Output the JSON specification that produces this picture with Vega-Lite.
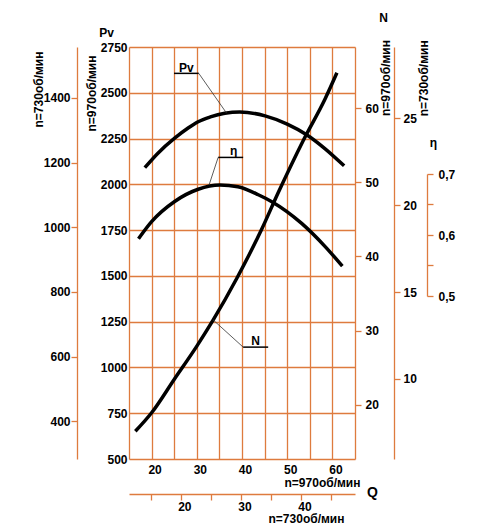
{
  "$schema": "https://vega.github.io/schema/vega-lite/v6.json",
  "width": 226,
  "height": 412,
  "autosize": {"type": "none"},
  "padding": {"left": 129, "top": 47, "right": 123, "bottom": 71},
  "background": "white",
  "datasets": {
    "pv": [
      {"Q": 18.5, "Pv": 2091}, {"Q": 21.4, "Pv": 2170}, {"Q": 25.1, "Pv": 2252},
      {"Q": 28.0, "Pv": 2306}, {"Q": 30.3, "Pv": 2342}, {"Q": 33.0, "Pv": 2368},
      {"Q": 36.2, "Pv": 2388}, {"Q": 39.5, "Pv": 2395}, {"Q": 45.1, "Pv": 2374},
      {"Q": 50.0, "Pv": 2329}, {"Q": 54.3, "Pv": 2271}, {"Q": 58.4, "Pv": 2194},
      {"Q": 62.6, "Pv": 2101}
    ],
    "eta": [
      {"Q": 17.1, "eta": 0.594}, {"Q": 20.0, "eta": 0.622}, {"Q": 25.1, "eta": 0.655},
      {"Q": 30.3, "eta": 0.675}, {"Q": 35.1, "eta": 0.682}, {"Q": 39.1, "eta": 0.679},
      {"Q": 43.6, "eta": 0.666}, {"Q": 46.5, "eta": 0.655}, {"Q": 53.2, "eta": 0.619},
      {"Q": 58.4, "eta": 0.581}, {"Q": 62.2, "eta": 0.549}
    ],
    "n": [
      {"Q": 16.4, "N": 16.4}, {"Q": 20.0, "N": 18.9}, {"Q": 25.1, "N": 23.5},
      {"Q": 29.9, "N": 27.8}, {"Q": 33.6, "N": 31.4}, {"Q": 38.8, "N": 37.0},
      {"Q": 44.3, "N": 43.6}, {"Q": 48.0, "N": 48.6}, {"Q": 53.5, "N": 55.6},
      {"Q": 58.4, "N": 61.3}, {"Q": 61.0, "N": 64.8}
    ],
    "labels": [
      {"label": "Pv", "tx": 27.7, "ty": 2638, "u1": 24.97, "u2": 30.44, "uy": 2606, "jx": 30.44, "cx": 36.58, "cy": 2389},
      {"label": "η", "tx": 38.15, "ty": 2182, "u1": 34.72, "u2": 40.25, "uy": 2147, "jx": 34.72, "cx": 32.72, "cy": 1997},
      {"label": "N", "tx": 43.0, "ty": 1144, "u1": 40.25, "u2": 45.79, "uy": 1111, "jx": 40.25, "cx": 33.6, "cy": 1260}
    ]
  },
  "layer": [
    {
      "data": {"name": "pv"},
      "mark": {"type": "line", "color": "black", "strokeWidth": 3.5, "interpolate": "monotone"},
      "encoding": {
        "x": {
          "field": "Q", "type": "quantitative",
          "scale": {"domain": [15, 65], "nice": false, "zero": false},
          "axis": {
            "values": [15, 20, 25, 30, 35, 40, 45, 50, 55, 60, 65],
            "labelExpr": "datum.value % 10 === 0 ? datum.label : ''",
            "grid": true, "domain": false, "ticks": false, "tickSize": 0,
            "labelPadding": 5, "labelOffset": 3,
            "title": "n=970об/мин", "titleX": 193, "titleY": 23,
            "titleAlign": "center", "titleBaseline": "middle"
          }
        },
        "y": {
          "field": "Pv", "type": "quantitative",
          "scale": {"domain": [500, 2750], "nice": false, "zero": false},
          "axis": {
            "values": [500, 750, 1000, 1250, 1500, 1750, 2000, 2250, 2500, 2750],
            "format": "d",
            "grid": true, "domain": false, "ticks": false, "tickSize": 0,
            "labelPadding": 2,
            "title": "n=970об/мин", "titleAngle": 270, "titleX": -38, "titleY": 46,
            "titleAlign": "center", "titleBaseline": "middle"
          }
        }
      }
    },
    {
      "data": {"name": "pv"},
      "mark": {"type": "point", "opacity": 0},
      "encoding": {
        "x": {
          "field": "Q", "type": "quantitative",
          "scale": {"domain": [15, 65], "nice": false, "zero": false},
          "axis": {
            "orient": "top", "labels": false, "ticks": false, "domain": false, "grid": false,
            "title": "Pv", "titleAngle": 0, "titleX": -23, "titleY": -15,
            "titleAlign": "center", "titleBaseline": "middle"
          }
        },
        "y": {
          "field": "Pv", "type": "quantitative",
          "scale": {"domain": [283.19, 1557.52], "nice": false, "zero": false},
          "axis": {
            "orient": "left", "offset": 52,
            "values": [400, 600, 800, 1000, 1200, 1400],
            "format": "d",
            "grid": false, "labelPadding": 1,
            "title": "n=730об/мин", "titleAngle": 270, "titleX": -39, "titleY": 42,
            "titleAlign": "center", "titleBaseline": "middle"
          }
        }
      }
    },
    {
      "data": {"name": "n"},
      "mark": {"type": "line", "color": "black", "strokeWidth": 3.5, "interpolate": "monotone"},
      "encoding": {
        "x": {
          "field": "Q", "type": "quantitative",
          "scale": {"domain": [15, 65], "nice": false, "zero": false},
          "axis": {
            "orient": "top", "labels": false, "ticks": false, "domain": false, "grid": false,
            "title": "N", "titleAngle": 0, "titleX": 254, "titleY": -30,
            "titleAlign": "center", "titleBaseline": "middle"
          }
        },
        "y": {
          "field": "N", "type": "quantitative",
          "scale": {"domain": [12.66, 68.28], "nice": false, "zero": false},
          "axis": {
            "orient": "right", "values": [20, 30, 40, 50, 60],
            "grid": false, "domain": false, "labelPadding": 4,
            "title": "n=970об/мин", "titleAngle": 270, "titleX": 30.5, "titleY": 30.5,
            "titleAlign": "center", "titleBaseline": "middle"
          }
        }
      }
    },
    {
      "data": {"name": "n"},
      "mark": {"type": "point", "opacity": 0},
      "encoding": {
        "x": {
          "field": "Q", "type": "quantitative",
          "scale": {"domain": [15, 65], "nice": false, "zero": false},
          "axis": null
        },
        "y": {
          "field": "N", "type": "quantitative",
          "scale": {"domain": [5.396, 29.103], "nice": false, "zero": false},
          "axis": {
            "orient": "right", "offset": 39, "values": [10, 15, 20, 25],
            "grid": false, "labelPadding": 3,
            "title": "n=730об/мин", "titleAngle": 270, "titleX": 29.7, "titleY": 30.8,
            "titleAlign": "center", "titleBaseline": "middle"
          }
        }
      }
    },
    {
      "data": {"name": "eta"},
      "mark": {"type": "line", "color": "black", "strokeWidth": 3.5, "interpolate": "monotone"},
      "encoding": {
        "x": {
          "field": "Q", "type": "quantitative",
          "scale": {"domain": [15, 65], "nice": false, "zero": false},
          "axis": null
        },
        "y": {
          "field": "eta", "type": "quantitative",
          "scale": {"domain": [0.5, 0.7], "range": [249, 127], "nice": false, "zero": false},
          "axis": {
            "orient": "right", "offset": 72, "values": [0.5, 0.55, 0.6, 0.65, 0.7],
            "labelExpr": "round(datum.value * 100) % 10 === 0 ? replace(format(datum.value, '.1f'), '.', ',') : ''",
            "grid": false, "labelPadding": 5,
            "title": "η", "titleAngle": 0, "titleX": 6, "titleY": 95,
            "titleAlign": "center", "titleBaseline": "middle"
          }
        }
      }
    },
    {
      "data": {"name": "pv"},
      "mark": {"type": "point", "opacity": 0},
      "encoding": {
        "x": {
          "field": "Q", "type": "quantitative",
          "scale": {"domain": [11.289, 48.918], "nice": false, "zero": false},
          "axis": {
            "orient": "bottom", "offset": 35, "values": [15, 20, 25, 30, 35, 40, 45],
            "labelExpr": "datum.value % 10 === 0 ? datum.label : ''",
            "grid": false, "labelPadding": 1, "labelOffset": 3,
            "title": "n=730об/мин", "titleX": 177, "titleY": 24.5,
            "titleAlign": "center", "titleBaseline": "middle"
          }
        },
        "y": {
          "field": "Pv", "type": "quantitative",
          "scale": {"domain": [500, 2750], "nice": false, "zero": false},
          "axis": {
            "orient": "right", "labels": false, "ticks": false, "domain": false, "grid": false,
            "title": "Q", "titleAngle": 0, "titleX": 17, "titleY": 445, "titleFontSize": 14,
            "titleAlign": "center", "titleBaseline": "middle"
          }
        }
      }
    },
    {
      "data": {"name": "labels"},
      "layer": [
        {
          "mark": {"type": "rule", "color": "black", "strokeWidth": 1.5},
          "encoding": {
            "x": {"field": "u1", "type": "quantitative", "scale": {"domain": [15, 65], "nice": false, "zero": false}, "axis": null},
            "x2": {"field": "u2"},
            "y": {"field": "uy", "type": "quantitative", "scale": {"domain": [500, 2750], "nice": false, "zero": false}, "axis": null}
          }
        },
        {
          "mark": {"type": "rule", "color": "#333333", "strokeWidth": 0.8},
          "encoding": {
            "x": {"field": "jx", "type": "quantitative", "scale": {"domain": [15, 65], "nice": false, "zero": false}, "axis": null},
            "x2": {"field": "cx"},
            "y": {"field": "uy", "type": "quantitative", "scale": {"domain": [500, 2750], "nice": false, "zero": false}, "axis": null},
            "y2": {"field": "cy"}
          }
        },
        {
          "mark": {"type": "text", "font": "Liberation Sans", "fontWeight": "bold", "fontSize": 12, "baseline": "middle", "align": "center"},
          "encoding": {
            "x": {"field": "tx", "type": "quantitative", "scale": {"domain": [15, 65], "nice": false, "zero": false}, "axis": null},
            "y": {"field": "ty", "type": "quantitative", "scale": {"domain": [500, 2750], "nice": false, "zero": false}, "axis": null},
            "text": {"field": "label"}
          }
        }
      ]
    }
  ],
  "resolve": {"scale": {"x": "independent", "y": "independent"}},
  "config": {
    "view": {"stroke": null},
    "axis": {
      "labelFont": "Liberation Sans", "labelFontWeight": "bold", "labelFontSize": 12, "labelColor": "black",
      "titleFont": "Liberation Sans", "titleFontWeight": "bold", "titleFontSize": 12, "titleColor": "black",
      "labelFlush": false, "labelOverlap": false,
      "domainColor": "#DE7B3E", "tickColor": "#DE7B3E", "gridColor": "#DE7B3E", "gridOpacity": 1,
      "domainWidth": 1.3, "tickWidth": 1.3, "gridWidth": 1.3, "tickSize": 6
    }
  }
}
